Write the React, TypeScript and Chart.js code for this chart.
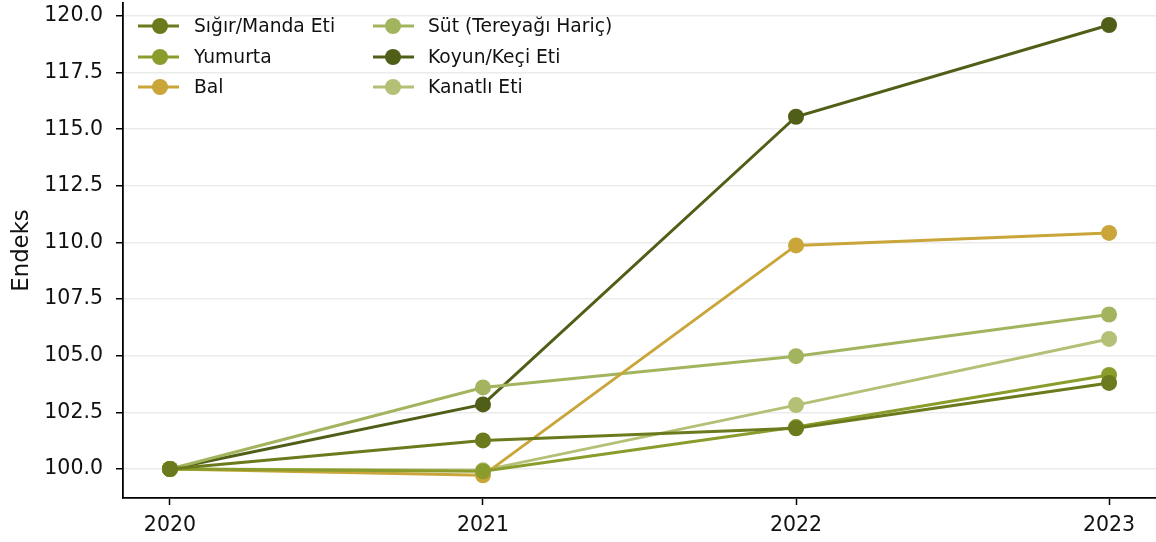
import React, { useEffect, useRef } from "react";
import { Chart, registerables } from "chart.js";

Chart.register(...registerables);

const years = [2020, 2021, 2022, 2023];
const yTicks = [100, 102.5, 105, 107.5, 110, 112.5, 115, 117.5, 120];

const sigirManda = [100, 101.26, 101.8, 103.8];
const yumurta = [100, 99.9, 101.85, 104.15];
const bal = [100, 99.72, 109.87, 110.42];
const sut = [100, 103.6, 104.98, 106.82];
const koyunKeci = [100, 102.85, 115.55, 119.6];
const kanatli = [100, 99.94, 102.82, 105.74];

const seriesNames = [
  "Sığır/Manda Eti",
  "Yumurta",
  "Bal",
  "Süt (Tereyağı Hariç)",
  "Koyun/Keçi Eti",
  "Kanatlı Eti",
];
const seriesValues = [sigirManda, yumurta, bal, sut, koyunKeci, kanatli];
const seriesColors = ["#6b7a1c", "#8a9d2c", "#c9a53a", "#a2b55e", "#4f5f17", "#b3c076"];

const FONT = "'DejaVu Sans', sans-serif";
const TEXT = "#111111";

const legendPlugin = {
  id: "insideLegend",
  afterDatasetsDraw(chart: any) {
    const { ctx, chartArea } = chart;
    const left = chartArea.left;
    const top = chartArea.top;
    const cols = [
      { lineStart: 15, lineEnd: 56, marker: 37, text: 71 },
      { lineStart: 250, lineEnd: 291, marker: 270, text: 305 },
    ];
    const rows = [23, 54, 84];
    ctx.save();
    ctx.font = `18.7px ${FONT}`;
    ctx.textBaseline = "middle";
    ctx.textAlign = "left";
    seriesNames.forEach((name, i) => {
      const col = cols[Math.floor(i / 3)];
      const y = top + rows[i % 3];
      ctx.strokeStyle = seriesColors[i];
      ctx.lineWidth = 3;
      ctx.beginPath();
      ctx.moveTo(left + col.lineStart, y);
      ctx.lineTo(left + col.lineEnd, y);
      ctx.stroke();
      ctx.fillStyle = seriesColors[i];
      ctx.beginPath();
      ctx.arc(left + col.marker, y, 8, 0, Math.PI * 2);
      ctx.fill();
      ctx.fillStyle = TEXT;
      ctx.fillText(name, left + col.text, y + 1);
    });
    ctx.restore();
  },
};

export default function App() {
  const canvasRef = useRef<HTMLCanvasElement | null>(null);

  useEffect(() => {
    if (!canvasRef.current) return;
    const chart = new Chart(canvasRef.current, {
      type: "line",
      data: {
        datasets: seriesNames.map((name, i) => ({
          label: name,
          data: years.map((yr, j) => ({ x: yr, y: seriesValues[i][j] })),
          borderColor: seriesColors[i],
          backgroundColor: seriesColors[i],
          borderWidth: 3,
          pointRadius: 8,
          pointHoverRadius: 8,
          pointBorderWidth: 0,
          pointBackgroundColor: seriesColors[i],
          tension: 0,
          clip: false,
        })),
      },
      options: {
        animation: false,
        responsive: false,
        maintainAspectRatio: false,
        layout: { padding: { top: 3, left: 0, right: 0, bottom: 0 }, autoPadding: false },
        plugins: {
          legend: { display: false },
          tooltip: { enabled: false },
        },
        scales: {
          x: {
            type: "linear",
            min: 2019.85,
            max: 2023.15,
            afterBuildTicks: (scale: any) => {
              scale.ticks = years.map((v) => ({ value: v }));
            },
            afterFit: (scale: any) => {
              scale.height = 44;
              scale.paddingLeft = 0;
              scale.paddingRight = 0;
            },
            ticks: {
              color: TEXT,
              font: { family: FONT, size: 20.5 },
              padding: 8,
              maxRotation: 0,
              callback: (v: any) => String(v),
            },
            grid: {
              color: "rgba(0,0,0,0)",
              tickColor: "#000",
              tickLength: 7,
              tickWidth: 1.5,
              drawOnChartArea: false,
            },
            border: { display: true, color: "#000", width: 1.8 },
          },
          y: {
            type: "linear",
            min: 98.72,
            max: 120.57,
            afterBuildTicks: (scale: any) => {
              scale.ticks = yTicks.map((v) => ({ value: v }));
            },
            afterFit: (scale: any) => {
              scale.width = 123;
              scale.paddingTop = 0;
              scale.paddingBottom = 0;
            },
            ticks: {
              color: TEXT,
              font: { family: FONT, size: 20.5 },
              padding: 13,
              callback: (v: any) => Number(v).toFixed(1),
            },
            grid: {
              color: "#ebebeb",
              lineWidth: 1.5,
              tickColor: "#000",
              tickLength: 7,
              tickWidth: 1.5,
            },
            border: { display: true, color: "#000", width: 1.8 },
            title: {
              display: true,
              text: "Endeks",
              color: TEXT,
              font: { family: FONT, size: 22.8 },
              padding: { top: 8, bottom: 0 },
            },
          },
        },
      },
      plugins: [legendPlugin],
    });
    return () => chart.destroy();
  }, []);

  return (
    <div style={{ position: "fixed", left: 0, top: 0, width: 1156, height: 542, background: "#fff" }}>
      <canvas ref={canvasRef} width={1156} height={542} style={{ display: "block", width: 1156, height: 542 }} />
    </div>
  );
}
